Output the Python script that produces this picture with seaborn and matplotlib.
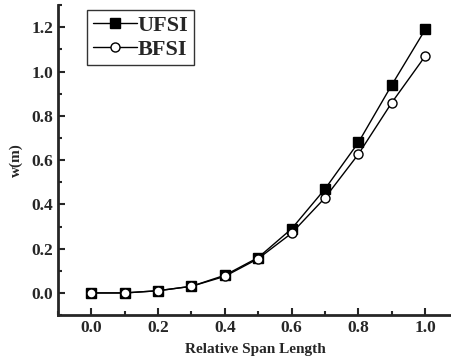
import numpy as np
import pandas as pd
import seaborn as sns
import matplotlib
matplotlib.use('Agg')
import matplotlib.pyplot as plt
from matplotlib.ticker import MultipleLocator

span = [0.0, 0.1, 0.2, 0.3, 0.4, 0.5, 0.6, 0.7, 0.8, 0.9, 1.0]
ufsi = [0.0, 0.0, 0.01, 0.03, 0.08, 0.16, 0.29, 0.47, 0.68, 0.94, 1.19]
bfsi = [0.0, 0.0, 0.01, 0.03, 0.075, 0.155, 0.27, 0.43, 0.627, 0.86, 1.07]

df = pd.DataFrame({'span': span * 2,
                   'w': ufsi + bfsi,
                   'case': ['UFSI'] * len(span) + ['BFSI'] * len(span)})

sns.set_style('ticks')
plt.rcParams['font.family'] = ['Liberation Serif', 'DejaVu Serif']
plt.rcParams['font.weight'] = 'bold'

fig = plt.figure(figsize=(4.52, 3.63), dpi=100)
ax = fig.add_axes([0.128, 0.132, 0.872, 0.854])

sns.lineplot(data=df, x='span', y='w', hue='case', style='case',
             palette={'UFSI': 'black', 'BFSI': 'black'},
             markers={'UFSI': 's', 'BFSI': 'o'}, dashes=False,
             markersize=6.5, linewidth=1.0, ax=ax)
for line in ax.lines:
    if line.get_marker() == 'o':
        line.set_markerfacecolor('white')
    line.set_markeredgecolor('black')
    line.set_markeredgewidth(1.0)

ax.set_xlim(-0.1, 1.08)
ax.set_ylim(-0.1, 1.3)
ax.xaxis.set_major_locator(MultipleLocator(0.2))
ax.xaxis.set_minor_locator(MultipleLocator(0.1))
ax.yaxis.set_major_locator(MultipleLocator(0.2))
ax.yaxis.set_minor_locator(MultipleLocator(0.1))
ax.tick_params(which='both', direction='in', width=1.5, labelsize=12.5)
ax.tick_params(which='major', length=5)
ax.tick_params(which='minor', length=3)
for lab in ax.get_xticklabels() + ax.get_yticklabels():
    lab.set_fontweight('bold')

sns.despine(ax=ax)
for s in ['left', 'bottom']:
    ax.spines[s].set_linewidth(2)

ax.set_xlabel('Relative Span Length', fontsize=11, fontweight='bold', labelpad=5)
ax.set_ylabel('w(m)', fontsize=11, fontweight='bold', labelpad=6)

leg = ax.legend(loc='upper left', bbox_to_anchor=(0.075, 0.985), fontsize=16,
                frameon=True, fancybox=False, edgecolor='black',
                handlelength=2.0, handletextpad=0.0, borderpad=0.25,
                labelspacing=0.15, borderaxespad=0.0)
leg.get_frame().set_linewidth(1.0)
for t in leg.get_texts():
    t.set_fontweight('bold')

fig.savefig('out.png', dpi=100)
